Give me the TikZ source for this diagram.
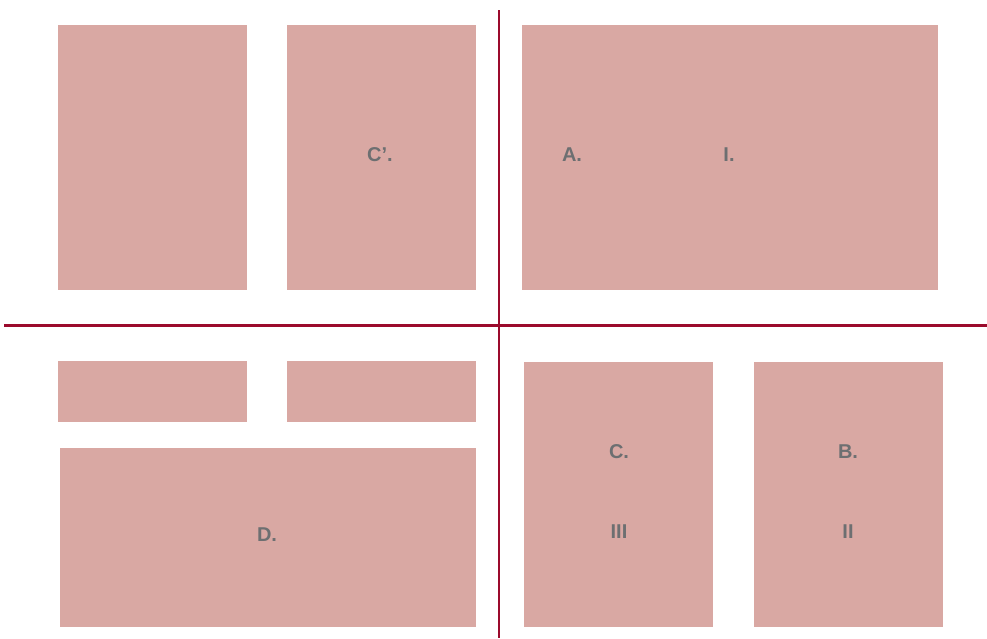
\documentclass[tikz,border=0pt]{standalone}
\usepackage{fontspec}
\setmainfont{Liberation Sans}
\usepackage{xcolor}
\usepackage{tikz}
\usetikzlibrary{positioning}

\definecolor{panelpink}{HTML}{D9A8A3}
\definecolor{rulered}{HTML}{9B0A2C}
\definecolor{labelgray}{HTML}{6D6F71}

\begin{document}
\begin{tikzpicture}[
x=1pt,
y=-1pt,
every node/.style={font=\fontsize{20}{22}\selectfont\bfseries,text=labelgray},
panel/.style={rectangle,fill=panelpink,inner sep=0pt,outer sep=0pt},
wide/.style={panel,minimum width=416pt},
narrow/.style={panel,minimum width=189pt},
tall/.style={minimum height=265pt},
divider/.style={draw=rulered,line width=2.4pt}
]
\useasboundingbox (0,0) rectangle (987,638);

% upper half
\node[narrow,tall] (topleft) at (152.5,157.5) {};
\node[narrow,tall] (topmid) at (381.5,157.5) {};
\node[wide,tall] (topright) at (730,157.5) {};

\node (cprime) at (380,155) {C’.};
\node (a) at (572,155) {A.};
\node (one) at (729,155) {I.};

% lower half
\node[narrow,minimum height=61pt] (stripleft) at (152.5,391.5) {};
\node[narrow,minimum height=61pt] (stripmid) at (381.5,391.5) {};
\node[wide,minimum height=179pt] (bottomleft) at (268,537.5) {};
\node[narrow,tall] (bottommid) at (618.5,494.5) {};
\node[narrow,tall] (bottomright) at (848.5,494.5) {};

\node (d) at (267,535) {D.};
\node (c) at (619,452) {C.};
\node (three) at (619,532) {III};
\node (b) at (848,452) {B.};
\node (two) at (848,532) {II};

% dividers
\draw[divider] (4,325.5) -- (987,325.5);
\draw[divider] (499,10) -- (499,638);
\end{tikzpicture}
\end{document}
